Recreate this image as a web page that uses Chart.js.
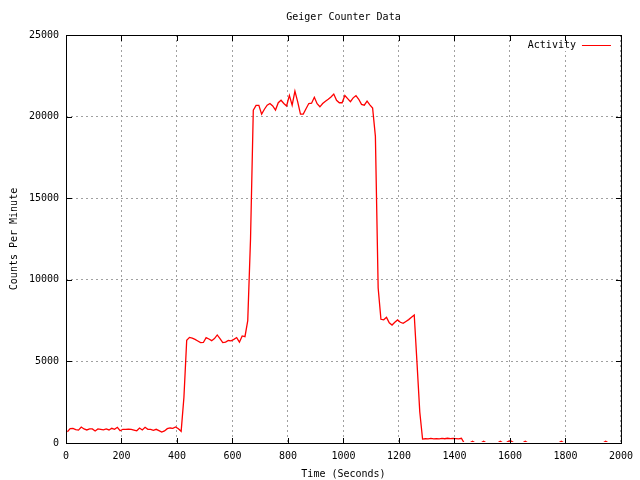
<!DOCTYPE html>
<html>
<head>
<meta charset="utf-8">
<script src="https://cdn.jsdelivr.net/npm/chart.js@4.4.1/dist/chart.umd.min.js"></script>
<style>
  html, body { margin: 0; padding: 0; background: #ffffff; }
  #wrap { width: 640px; height: 480px; }
  canvas { display: block; }
</style>
</head>
<body>
<div id="wrap"><canvas id="c" width="640" height="480"></canvas></div>
<script>
// ---- chart texts ----
const titleText = "Geiger Counter Data";
const xTitle = "Time (Seconds)";
const yTitle = "Counts Per Minute";
const seriesLabel = "Activity";

// ---- tick values ----
const xTicks = [0, 200, 400, 600, 800, 1000, 1200, 1400, 1600, 1800, 2000];
const yTicks = [0, 5000, 10000, 15000, 20000, 25000];

// ---- sample times (seconds) ----
const times = [
  5, 15, 25, 35, 45, 55, 65, 75, 85, 95,
  105, 115, 125, 135, 145, 155, 165, 175, 185, 195,
  205, 215, 225, 235, 245, 255, 265, 275, 285, 295,
  305, 315, 325, 335, 345, 355, 365, 375, 385, 395,
  405, 415, 425, 435, 445, 455, 465, 475, 485, 495,
  505, 515, 525, 535, 545, 555, 565, 575, 585, 595,
  605, 615, 625, 635, 645, 655, 665, 675, 685, 695,
  705, 715, 725, 735, 745, 755, 765, 775, 785, 795,
  805, 815, 825, 835, 845, 855, 865, 875, 885, 895,
  905, 915, 925, 935, 945, 955, 965, 975, 985, 995,
  1005, 1015, 1025, 1035, 1045, 1055, 1065, 1075, 1085, 1095,
  1105, 1115, 1125, 1135, 1145, 1155, 1165, 1175, 1185, 1195,
  1205, 1215, 1225, 1235, 1245, 1255, 1265, 1275, 1285, 1295,
  1305, 1315, 1325, 1335, 1345, 1355, 1365, 1375, 1385, 1395,
  1405, 1415, 1425, 1435, 1445, 1455, 1465, 1475, 1485, 1495,
  1505, 1515, 1525, 1535, 1545, 1555, 1565, 1575, 1585, 1595,
  1605, 1615, 1625, 1635, 1645, 1655, 1665, 1675, 1685, 1695,
  1705, 1715, 1725, 1735, 1745, 1755, 1765, 1775, 1785, 1795,
  1805, 1815, 1825, 1835, 1845, 1855, 1865, 1875, 1885, 1895,
  1905, 1915, 1925, 1935, 1945, 1955
];

// ---- counts per minute ----
const counts = [
  690, 880, 900, 820, 790, 980, 860, 800, 860, 860,
  735, 860, 840, 800, 860, 800, 900, 840, 960, 750,
  840, 840, 850, 830, 790, 750, 920, 800, 960, 840,
  840, 780, 840, 760, 670, 740, 880, 920, 900, 980,
  870, 715, 2800, 6300, 6470, 6420, 6350, 6250, 6150, 6160,
  6460, 6370, 6270, 6400, 6620, 6400, 6150, 6180, 6280, 6260,
  6350, 6460, 6180, 6560, 6520, 7500, 12500, 20400, 20690, 20690,
  20150, 20450, 20700, 20800, 20650, 20400, 20850, 21000, 20800, 20650,
  21300, 20700, 21560, 20900, 20150, 20150, 20480, 20800, 20820, 21180,
  20790, 20600, 20800, 20940, 21060, 21200, 21380, 21000, 20850, 20850,
  21290, 21100, 20910, 21150, 21280, 21060, 20750, 20700, 20950, 20720,
  20520, 18800, 9500, 7580, 7550, 7700, 7370, 7230, 7400, 7540,
  7400, 7330, 7450, 7560, 7700, 7840, 4900, 1900, 240, 260,
  250, 280, 250, 270, 250, 280, 260, 290, 270, 280,
  270, 250, 290, 0, 0, 0, 110, 0, 0, 0,
  110, 0, 0, 0, 0, 0, 110, 0, 0, 110,
  110, 0, 0, 0, 0, 110, 0, 0, 0, 0,
  0, 0, 0, 0, 0, 0, 0, 0, 110, 0,
  0, 0, 0, 0, 0, 0, 0, 0, 0, 0,
  0, 0, 0, 0, 110, 0
];

const FONT = "'DejaVu Sans Mono', 'Liberation Mono', monospace";
const LINE_COLOR = '#ff0000';
const GRID_COLOR = '#a0a0a0';

// Frame, inward tick marks and key drawn after the data (gnuplot style)
const framePlugin = {
  id: 'gnuplotFrame',
  afterDatasetsDraw(chart) {
    const ctx = chart.ctx;
    const {left, right, top, bottom} = chart.chartArea;
    const xs = chart.scales.x, ys = chart.scales.y;
    ctx.save();

    // key area (blank grid behind it)
    ctx.fillStyle = '#ffffff';
    ctx.fillRect(right - 105, top + 6, 100, 10);
    ctx.fillStyle = '#000000';
    ctx.font = '10px ' + FONT;
    ctx.textAlign = 'right';
    ctx.textBaseline = 'middle';
    ctx.fillText(chart.data.datasets[0].label, right - 45, top + 10.5);
    ctx.strokeStyle = chart.data.datasets[0].borderColor;
    ctx.lineWidth = 1;
    ctx.beginPath();
    ctx.moveTo(right - 39, top + 10.5);
    ctx.lineTo(right - 10, top + 10.5);
    ctx.stroke();

    // border
    ctx.strokeStyle = '#000000';
    ctx.lineWidth = 1;
    ctx.strokeRect(left + 0.5, top + 0.5, right - left, bottom - top);

    // tick marks (mirrored on all sides)
    ctx.beginPath();
    xs.ticks.forEach(t => {
      const px = Math.round(xs.getPixelForValue(t.value)) + 0.5;
      ctx.moveTo(px, bottom + 1); ctx.lineTo(px, bottom - 5);
      ctx.moveTo(px, top); ctx.lineTo(px, top + 6);
    });
    ys.ticks.forEach(t => {
      const py = Math.round(ys.getPixelForValue(t.value)) + 0.5;
      ctx.moveTo(left, py); ctx.lineTo(left + 6, py);
      ctx.moveTo(right + 1, py); ctx.lineTo(right - 5, py);
    });
    ctx.stroke();
    ctx.restore();
  }
};

new Chart(document.getElementById('c').getContext('2d'), {
  type: 'line',
  data: {
    datasets: [{
      label: seriesLabel,
      data: times.map((t, i) => ({x: t, y: counts[i]})),
      borderColor: LINE_COLOR,
      backgroundColor: LINE_COLOR,
      borderWidth: 1.3,
      pointRadius: 0,
      tension: 0,
      fill: false,
      clip: {left: 0, top: 0, right: 0, bottom: -1}
    }]
  },
  options: {
    responsive: false,
    animation: false,
    layout: {padding: {left: 0, right: 19, top: 0, bottom: 0}},
    plugins: {
      legend: {display: false},
      tooltip: {enabled: false},
      title: {
        display: true,
        text: titleText,
        color: '#000000',
        fullSize: false,
        font: {family: FONT, size: 10, weight: 'normal', lineHeight: '13px'},
        padding: {top: 11, bottom: 11}
      }
    },
    scales: {
      x: {
        type: 'linear',
        min: 0, max: 2000,
        afterBuildTicks: s => { s.ticks = xTicks.map(v => ({value: v})); },
        afterFit: s => { s.height = 37; },
        grid: {color: GRID_COLOR, lineWidth: 1, drawTicks: false},
        border: {display: false, dash: [2, 3]},
        ticks: {
          color: '#000000', font: {family: FONT, size: 10}, padding: 7,
          maxRotation: 0, autoSkip: false, callback: v => String(v)
        },
        title: {
          display: true, text: xTitle, color: '#000000',
          font: {family: FONT, size: 10}, padding: {top: 0, bottom: 0}
        }
      },
      y: {
        type: 'linear',
        min: 0, max: 25000,
        afterBuildTicks: s => { s.ticks = yTicks.map(v => ({value: v})); },
        afterFit: s => { s.width = 66; },
        grid: {color: GRID_COLOR, lineWidth: 1, drawTicks: false},
        border: {display: false, dash: [2, 3]},
        ticks: {
          color: '#000000', font: {family: FONT, size: 10}, padding: 7,
          autoSkip: false, callback: v => String(v)
        },
        title: {
          display: true, text: yTitle, color: '#000000',
          font: {family: FONT, size: 10}, padding: {top: 8, bottom: 0}
        }
      }
    }
  },
  plugins: [framePlugin]
});
</script>
</body>
</html>
